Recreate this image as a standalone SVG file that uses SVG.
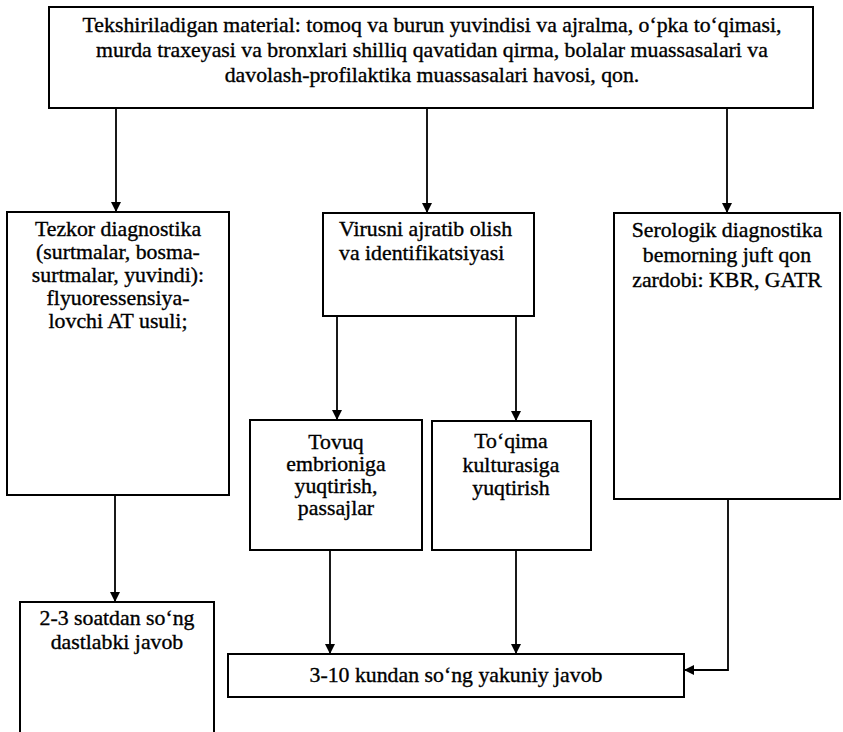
<svg xmlns="http://www.w3.org/2000/svg" width="843" height="732" viewBox="0 0 843 732">
<style>
.box{fill:#fff;stroke:#000;stroke-width:2}
.t{font-family:"Liberation Serif","Times New Roman",serif;font-size:21.8px;fill:#000;stroke:#000;stroke-width:0.35}
.c{text-anchor:middle}
.ln{fill:none;stroke:#000;stroke-width:1.8}
</style>
<defs>
<marker id="ah" viewBox="0 0 10 10" refX="10" refY="5" markerWidth="10" markerHeight="10" markerUnits="userSpaceOnUse" orient="auto">
<path d="M0,0 L10,5 L0,10 Z" fill="#000"/>
</marker>
</defs>
<rect width="843" height="732" fill="#fff"/>
<g id="connectors">
<line class="ln" x1="116" y1="108" x2="116" y2="212" marker-end="url(#ah)"/>
<line class="ln" x1="427" y1="108" x2="427" y2="213" marker-end="url(#ah)"/>
<line class="ln" x1="727" y1="108" x2="727" y2="213" marker-end="url(#ah)"/>
<line class="ln" x1="337" y1="316" x2="337" y2="420" marker-end="url(#ah)"/>
<line class="ln" x1="516" y1="316" x2="516" y2="421" marker-end="url(#ah)"/>
<line class="ln" x1="115" y1="495" x2="115" y2="602" marker-end="url(#ah)"/>
<line class="ln" x1="330" y1="550" x2="330" y2="654" marker-end="url(#ah)"/>
<line class="ln" x1="516" y1="550" x2="516" y2="654" marker-end="url(#ah)"/>
<polyline class="ln" points="728,499 728,670 684,670" marker-end="url(#ah)"/>
</g>
<g id="material">
<rect class="box" x="49" y="7" width="764" height="101"/>
<text class="t c" x="432" y="32">Tekshiriladigan material: tomoq va burun yuvindisi va ajralma, o‘pka to‘qimasi,</text>
<text class="t c" x="432" y="57">murda traxeyasi va bronxlari shilliq qavatidan qirma, bolalar muassasalari va</text>
<text class="t c" x="432" y="82">davolash-profilaktika muassasalari havosi, qon.</text>
</g>
<g id="tezkor">
<rect class="box" x="7" y="212" width="222" height="283"/>
<text class="t c" x="118" y="236">Tezkor diagnostika</text>
<text class="t c" x="118" y="259">(surtmalar, bosma-</text>
<text class="t c" x="118" y="282">surtmalar, yuvindi):</text>
<text class="t c" x="118" y="305">flyuoressensiya-</text>
<text class="t c" x="118" y="328">lovchi AT usuli;</text>
</g>
<g id="virusni">
<rect class="box" x="323" y="213" width="211" height="103"/>
<text class="t" x="339" y="236">Virusni ajratib olish</text>
<text class="t" x="339" y="260">va identifikatsiyasi</text>
</g>
<g id="serologik">
<rect class="box" x="614" y="213" width="226" height="286"/>
<text class="t c" x="727" y="237">Serologik diagnostika</text>
<text class="t c" x="727" y="262">bemorning juft qon</text>
<text class="t c" x="727" y="287">zardobi: KBR, GATR</text>
</g>
<g id="tovuq">
<rect class="box" x="250" y="420" width="172" height="130"/>
<text class="t c" x="336" y="449">Tovuq</text>
<text class="t c" x="336" y="471">embrioniga</text>
<text class="t c" x="336" y="493">yuqtirish,</text>
<text class="t c" x="336" y="515">passajlar</text>
</g>
<g id="toqima">
<rect class="box" x="432" y="421" width="159" height="129"/>
<text class="t c" x="511" y="448">To‘qima</text>
<text class="t c" x="511" y="472">kulturasiga</text>
<text class="t c" x="511" y="495">yuqtirish</text>
</g>
<g id="dastlabki">
<rect class="box" x="20" y="602" width="194" height="140"/>
<text class="t c" x="117" y="625">2-3 soatdan so‘ng</text>
<text class="t c" x="117" y="649">dastlabki javob</text>
</g>
<g id="yakuniy">
<rect class="box" x="228" y="654" width="456" height="43"/>
<text class="t c" x="456" y="682">3-10 kundan so‘ng yakuniy javob</text>
</g>
</svg>
